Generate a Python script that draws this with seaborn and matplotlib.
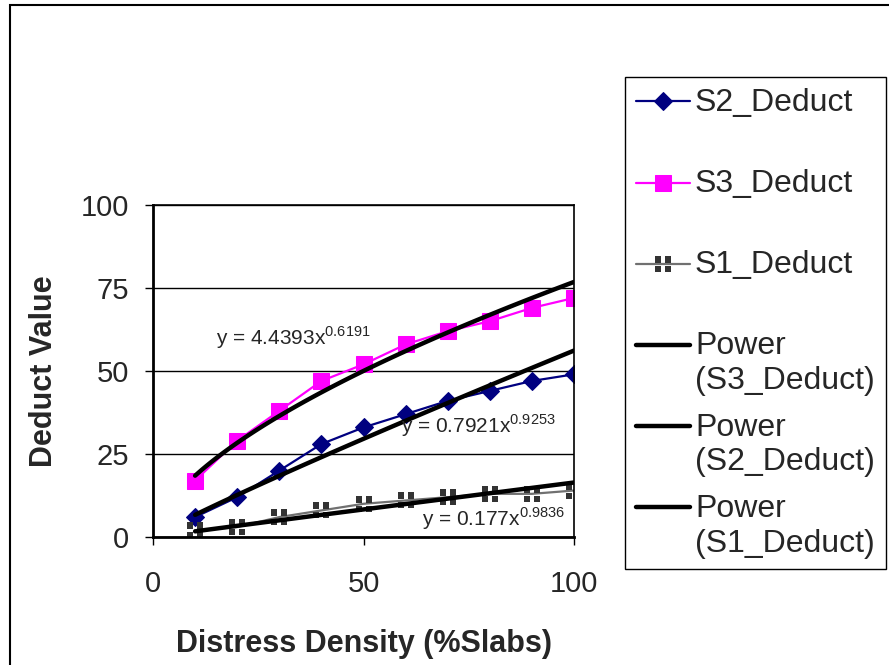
import numpy as np
import matplotlib
matplotlib.use("Agg")
import matplotlib.pyplot as plt
import matplotlib.patches as mpatches
import matplotlib.transforms as mtransforms
from matplotlib.lines import Line2D
from matplotlib.path import Path
from matplotlib.legend_handler import HandlerLine2D
import seaborn as sns

# data
density = [10, 20, 30, 40, 50, 60, 70, 80, 90, 100]
s2_deduct = [6, 12, 20, 28, 33, 37, 41, 44, 47, 49]
s3_deduct = [17, 29, 38, 47, 52, 58, 62, 65, 69, 72]
s1_deduct = [2, 3, 6, 8, 10, 11, 12, 13, 13, 14]

# power trendlines as printed on the chart: y = a * x^b
fit_s3 = (4.4393, 0.6191)
fit_s2 = (0.7921, 0.9253)
fit_s1 = (0.177, 0.9836)

sns.set_style("white")
plt.rcParams['font.family'] = ['Liberation Sans', 'DejaVu Sans']
plt.rcParams['mathtext.fontset'] = 'custom'
plt.rcParams['mathtext.rm'] = 'Liberation Sans'

fig = plt.figure(figsize=(8.89, 6.65), dpi=100)
ax = fig.add_axes([153 / 889, 128 / 665, 421 / 889, 332 / 665])

# Excel-like "split square" marker for S1
sq = []
for cx, cy in [(-1, -1), (0.18, -1), (-1, 0.18), (0.18, 0.18)]:
    sq.append(Path([(cx, cy), (cx + 0.82, cy), (cx + 0.82, cy + 0.82), (cx, cy + 0.82), (cx, cy)],
                   [Path.MOVETO, Path.LINETO, Path.LINETO, Path.LINETO, Path.CLOSEPOLY]))
split_square = Path.make_compound_path(*sq)

sns.lineplot(x=density, y=s2_deduct, ax=ax, color='#000080', lw=1.6, marker='D',
             markersize=9, markeredgecolor='#000080', label='S2_Deduct\n ')
sns.lineplot(x=density, y=s3_deduct, ax=ax, color='#FF00FF', lw=1.6, marker='s',
             markersize=12, markeredgecolor='#FF00FF', label='S3_Deduct\n ')
sns.lineplot(x=density, y=s1_deduct, ax=ax, color='#707070', lw=1.6, marker=split_square,
             markersize=12, markeredgewidth=0, markerfacecolor='#333333', label='S1_Deduct\n ')

xs = np.linspace(density[0], density[-1], 100)
for (a, b), name in [(fit_s3, 'S3_Deduct'), (fit_s2, 'S2_Deduct'), (fit_s1, 'S1_Deduct')]:
    sns.lineplot(x=xs, y=a * xs ** b, ax=ax, color='black', lw=3.2,
                 label=f'Power\n({name})')

ax.text(15, 60, r'y = 4.4393$\mathrm{x}^{0.6191}$', fontsize=15, va='center')
ax.text(59, 33.5, r'y = 0.7921$\mathrm{x}^{0.9253}$', fontsize=15, va='center')
ax.text(64, 5.5, r'y = 0.177$\mathrm{x}^{0.9836}$', fontsize=15, va='center')

ax.set_xlim(0, 100)
ax.set_ylim(0, 100)
ax.set_xticks([0, 50, 100])
ax.set_yticks([0, 25, 50, 75, 100])
ax.yaxis.grid(True, color='black', lw=1)
ax.xaxis.grid(False)
ax.tick_params(axis='both', direction='out', length=6, width=1, color='black',
               labelsize=21, left=True, bottom=True)
ax.tick_params(axis='x', pad=18)
ax.tick_params(axis='y', pad=11)
for s in ax.spines.values():
    s.set_color('black')
    s.set_linewidth(1.2)
ax.spines['left'].set_linewidth(2)
ax.spines['bottom'].set_linewidth(2)

ax.set_xlabel('Distress Density (%Slabs)', fontsize=22, fontweight='bold', labelpad=22)
ax.set_ylabel('Deduct Value', fontsize=22, fontweight='bold', labelpad=16)


class RaisedLine(HandlerLine2D):
    # put the legend line level with the first line of a two-line label
    def create_artists(self, legend, orig_handle, xdescent, ydescent, width, height, fontsize, trans):
        trans = mtransforms.Affine2D().translate(0, 0.6 * fontsize) + trans
        return super().create_artists(legend, orig_handle, xdescent, ydescent,
                                      width, height, fontsize, trans)


ax.get_legend().remove()
handles, labels = ax.get_legend_handles_labels()
leg = fig.legend(handles, labels, loc='upper left', bbox_to_anchor=(625 / 889, 588 / 665),
                 bbox_transform=fig.transFigure, fontsize=23, frameon=True, fancybox=False,
                 edgecolor='black', framealpha=1, borderpad=0.34, handlelength=1.7,
                 handletextpad=0.15, labelspacing=0.52, borderaxespad=0,
                 handler_map={Line2D: RaisedLine()})
leg.get_frame().set_linewidth(1)

fig.add_artist(mpatches.Rectangle((10 / 889, -0.1), 1.2, 660 / 665 + 0.1, fill=False,
                                  lw=1.5, edgecolor='black', transform=fig.transFigure))

fig.savefig('out.png', dpi=100)
